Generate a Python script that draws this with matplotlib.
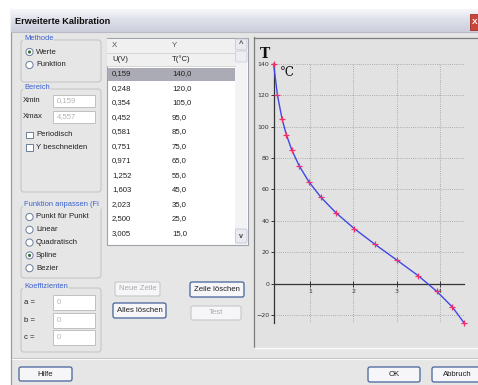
import numpy as np
import matplotlib
matplotlib.use("Agg")
import matplotlib.pyplot as plt
from matplotlib.patches import Rectangle, FancyBboxPatch, Circle
from matplotlib.colors import LinearSegmentedColormap

# calibration table: U(V) -> T(C)
u_volts = [0.159, 0.248, 0.354, 0.452, 0.581, 0.751, 0.971, 1.252,
           1.603, 2.023, 2.500, 3.005, 3.50, 3.93, 4.29, 4.557]
t_celsius = [140, 120, 105, 95, 85, 75, 65, 55, 45, 35, 25, 15, 5, -5, -15, -25]
n_visible_rows = 12

x_ticks = [1, 2, 3, 4]
y_ticks = [-20, 0, 20, 40, 60, 80, 100, 120, 140]
x_range = (0.159, 4.557)
y_range = (-25, 140)

fit_modes = ["Punkt für Punkt", "Linear", "Quadratisch", "Spline", "Bezier"]
fit_selected = "Spline"
methods = ["Werte", "Funktion"]
coeff_names = ["a =", "b =", "c ="]

UI_FONT = "Liberation Sans"
BODY = "#E6E6E6"
BLUE = "#3A5FCD"

fig = plt.figure(figsize=(4.78, 3.85), dpi=100)
fig.patch.set_facecolor("white")

ui = fig.add_axes([0, 0, 1, 1])
ui.axis("off")


def rect(x0, y0, x1, y1, fc, ec="none", lw=0.8, z=1):
    ui.add_patch(Rectangle((x0, y0), x1 - x0, y1 - y0, fc=fc, ec=ec, lw=lw, zorder=z))


def rbox(x0, y0, x1, y1, fc, ec, lw=0.8, r=2, z=2):
    ui.add_patch(FancyBboxPatch((x0, y0), x1 - x0, y1 - y0,
                                boxstyle=f"round,pad=0,rounding_size={r}",
                                fc=fc, ec=ec, lw=lw, zorder=z))


def label(x, y, s, color="#222222", size=5.6, ha="left", weight="normal", z=5, **kw):
    ui.text(x, y, s, color=color, fontsize=size, ha=ha, va="center",
            family=UI_FONT, weight=weight, zorder=z, **kw)


def group(x0, y0, x1, y1, title, tw):
    rbox(x0, y0, x1, y1, "none", "#C6C6C6", lw=0.8, r=3)
    rect(x0 + 2, y0 - 3, x0 + 4 + tw, y0 + 3, BODY, z=3)
    label(x0 + 3, y0 - 1.5, title, color=BLUE, size=5.4)


def radio(y, text, on):
    ui.add_patch(Circle((29.5, y), 3.6, fc="white", ec="#6C7E9C", lw=0.7, zorder=4))
    if on:
        ui.add_patch(Circle((29.5, y), 1.6, fc="#3E6B3E", ec="none", zorder=5))
    label(36, y, text)


def checkbox(y, text):
    rect(26.5, y - 3.2, 33, y + 3.2, "white", "#6C7E9C", lw=0.7, z=4)
    label(36, y, text)


def field(x0, y0, x1, y1, s):
    rect(x0, y0, x1, y1, "white", "#C0C0C0", lw=0.7, z=4)
    label(x0 + 4, (y0 + y1) / 2, s, color="#B4B4B4")


def button(x0, y0, x1, y1, s, enabled=True):
    ec = "#44619A" if enabled else "#CBCBCB"
    rbox(x0, y0, x1, y1, "#F6F6F9", ec, lw=0.9, r=2)
    label((x0 + x1) / 2, (y0 + y1) / 2, s, ha="center",
          color="#1E1E1E" if enabled else "#AAAAAA")


# window: white margin, title bar, body
rect(11, 32, 480, 386, BODY, z=0)
ui.plot([11.5, 11.5], [9, 385], color="#9C9C9C", lw=0.9, zorder=1)
grad = np.linspace(0, 1, 24).reshape(-1, 1)
tb_cmap = LinearSegmentedColormap.from_list("tb", ["#F7F7FA", "#DCDEE8", "#CDD0DC"])
ui.imshow(grad, extent=(11, 478, 32, 9), aspect="auto", cmap=tb_cmap, zorder=1)
ui.plot([11, 478], [31.5, 31.5], color="#B8BAC4", lw=0.8, zorder=2)
label(15, 22, "Erweiterte Kalibration", color="#101010", size=6.6, weight="bold")
rect(470, 14, 480, 30, "#C9473A", "#A03028", lw=0.6, z=3)
ui.text(475, 22, "X", color="white", fontsize=6, ha="center", va="center",
        weight="bold", family=UI_FONT, zorder=4)

# left column groups
group(21, 40, 101, 82, "Methode", 29)
for i, m in enumerate(methods):
    radio(52 + 13 * i, m, i == 0)

group(21, 89, 101, 192, "Bereich", 25)
label(23, 100.5, "Xmin")
field(53, 95, 95, 107, "{:.3f}".format(x_range[0]).replace(".", ","))
label(23, 117, "Xmax")
field(53, 111, 95, 123, "{:.3f}".format(x_range[1]).replace(".", ","))
checkbox(135, "Periodisch")
checkbox(147.5, "Y beschneiden")

group(21, 206, 101, 278, "Funktion anpassen (Fi", 76)
for i, f in enumerate(fit_modes):
    radio(217 + 12.8 * i, f, f == fit_selected)

group(21, 288, 101, 352, "Koeffizienten", 44)
for i, c in enumerate(coeff_names):
    yb = 295 + 17.5 * i
    label(24, yb + 7.5, c)
    field(53, yb, 95, yb + 15, "0")

# table of calibration values
rect(107, 38, 248, 245, "white", "#9EA2AA", lw=0.8, z=2)
rect(107.5, 38.5, 235, 66, "#F0F0F0", z=3)
ui.plot([107.5, 235], [52.5, 52.5], color="#D0D0D0", lw=0.6, zorder=4)
ui.plot([107.5, 235], [66, 66], color="#D0D0D0", lw=0.6, zorder=4)
label(112, 45.5, "X", color="#555555")
label(172, 45.5, "Y", color="#555555")
label(112, 59.5, "U(V)")
label(172, 59.5, "T(°C)")
rect(107.8, 67.5, 235, 80.5, "#ABABB5", z=3)
for i in range(n_visible_rows):
    yr = 74 + 14.5 * i
    label(112, yr, "{:.3f}".format(u_volts[i]).replace(".", ","))
    label(172, yr, "{:.1f}".format(t_celsius[i]).replace(".", ","))
# scrollbar
rect(235, 38.5, 247.5, 244.5, "#F3F3F5", z=3)
rbox(235.5, 39, 247, 50, "#E8EAF0", "#C4C8D4", lw=0.6, r=1.5, z=4)
label(241.2, 45, "^", ha="center", size=5.5, weight="bold", color="#444444", z=6)
rbox(235.5, 51, 247, 62, "#ECEEF2", "#CDD0D8", lw=0.6, r=1.5, z=4)
rbox(235.5, 229, 247, 243, "#E8EAF0", "#C4C8D4", lw=0.6, r=1.5, z=4)
label(241.2, 236, "v", ha="center", size=5.2, weight="bold", color="#444444", z=6)

# buttons
button(115, 282, 160, 296, "Neue Zeile", enabled=False)
button(190, 282, 244, 297, "Zeile löschen")
button(113, 303, 166, 318, "Alles löschen")
button(191, 306, 241, 320, "Test", enabled=False)
ui.plot([12, 478], [358, 358], color="#C4C4C4", lw=0.8, zorder=2)
ui.plot([12, 478], [359, 359], color="#FAFAFA", lw=0.8, zorder=2)
button(19, 367, 72, 381, "Hilfe")
button(368, 367, 420, 382, "OK")
button(432, 367, 482, 382, "Abbruch")

# chart panel
rect(254, 37, 480, 348, "#E2E2E2", z=1)
ui.plot([254.5, 254.5], [37, 348], color="#7C7C7C", lw=0.9, zorder=2)
ui.plot([254.5, 478], [37.5, 37.5], color="#7C7C7C", lw=0.9, zorder=2)
ui.plot([254.5, 478], [348, 348], color="#FBFBFB", lw=1.0, zorder=2)
ui.text(265, 54, "T", fontsize=10, family="DejaVu Serif", weight="bold",
        ha="center", va="center", color="#111111", zorder=5)
ui.text(287, 72.5, "°C", fontsize=8.6, family="DejaVu Serif",
        ha="center", va="center", color="#111111", zorder=5)

ui.set_xlim(0, 478)
ui.set_ylim(385, 0)

# calibration plot (axes box spans exactly the data range)
ax = fig.add_axes([273.6 / 478, 1 - 322.8 / 385, 190.4 / 478, 258.9 / 385])
ax.set_facecolor("none")
ax.set_xlim(*x_range)
ax.set_ylim(*y_range)
for side in ("top", "right"):
    ax.spines[side].set_visible(False)
ax.spines["bottom"].set_position(("data", 0))
ax.spines["left"].set_color("#333333")
ax.spines["bottom"].set_color("#333333")
ax.spines["left"].set_linewidth(0.9)
ax.spines["bottom"].set_linewidth(0.9)
ax.set_xticks(x_ticks)
ax.set_yticks(y_ticks)
ax.tick_params(axis="x", direction="inout", length=5, width=0.7, pad=1.5,
               labelsize=4.5, colors="#333333")
ax.tick_params(axis="y", direction="out", length=2, width=0.7, pad=1,
               labelsize=4.5, colors="#333333")
ax.grid(True, color="#9C9C9C", lw=0.6, linestyle=(0, (1, 1.6)))
ax.set_axisbelow(True)

ax.plot(u_volts, t_celsius, color="#4048E6", lw=1.0, zorder=3, clip_on=False)
ax.plot(u_volts, t_celsius, "+", color="#F0306A", ms=4.5, mew=0.9,
        zorder=4, clip_on=False)

fig.savefig("out.png", dpi=100)
